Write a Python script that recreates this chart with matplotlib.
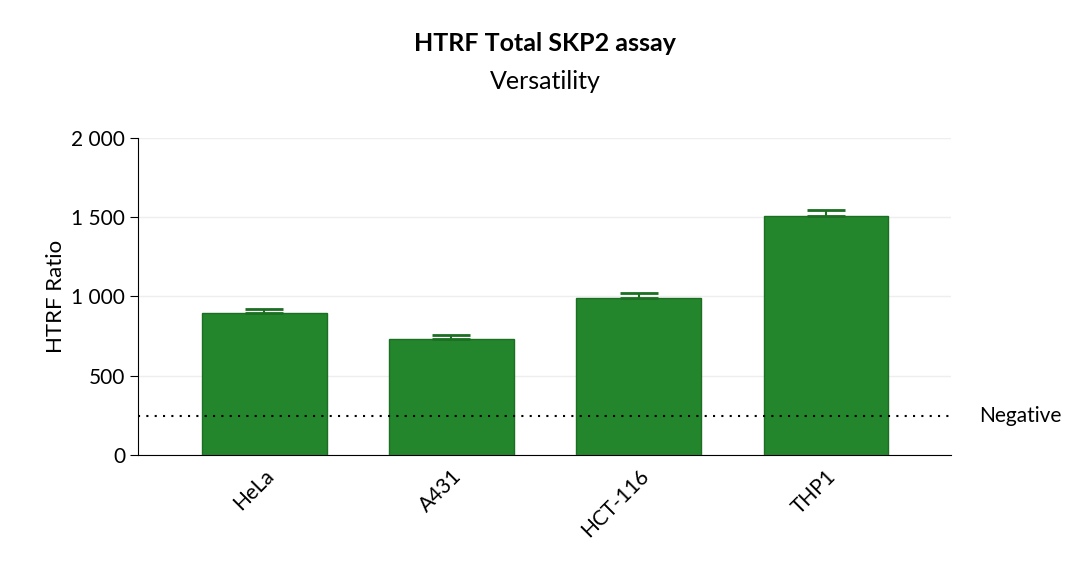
import matplotlib.pyplot as plt

cells = ['HeLa', 'A431', 'HCT-116', 'THP1']
ratio = [895, 732, 990, 1508]
error = [26, 24, 30, 36]
negative = 246
y_ticks = [0, 500, 1000, 1500, 2000]
y_labels = ['0', '500', '1 000', '1 500', '2 000']

plt.rcParams['font.family'] = ['Lato', 'DejaVu Sans']

fig = plt.figure(figsize=(10.8, 5.75), dpi=100)
ax = fig.add_axes([0.128, 0.209, 0.753, 0.551])

x = list(range(len(cells)))
ax.bar(x, ratio, width=0.667, color='#23862c', edgecolor='#1b6e22', linewidth=1, zorder=3)
ax.errorbar(x, ratio, yerr=[[0] * len(error), error], fmt='none', ecolor='#1b6e22',
            elinewidth=1.5, capsize=14, capthick=2, zorder=4)

ax.axhline(negative, color='black', linestyle=(0, (1, 3)), linewidth=1.5, zorder=5)
ax.text(3.82, negative, 'Negative', va='center', ha='left', fontsize=15)

ax.set_xlim(-0.672, 3.67)
ax.set_ylim(0, 2000)
ax.set_yticks(y_ticks)
ax.set_yticklabels(y_labels, fontsize=15)
ax.set_xticks(x)
ax.set_xticklabels(cells, rotation=45, ha='right', rotation_mode='anchor', fontsize=15)
ax.set_ylabel('HTRF Ratio', fontsize=16)
ax.grid(axis='y', color='#eeeeee', linewidth=1, zorder=0)
ax.spines['top'].set_visible(False)
ax.spines['right'].set_visible(False)
ax.tick_params(axis='x', length=0, pad=8)
ax.tick_params(axis='y', length=6)

fig.text(0.505, 0.925, 'HTRF Total SKP2 assay', ha='center', va='center', fontsize=18, fontweight='bold')
fig.text(0.505, 0.858, 'Versatility', ha='center', va='center', fontsize=18)

fig.savefig('out.png', dpi=100)
